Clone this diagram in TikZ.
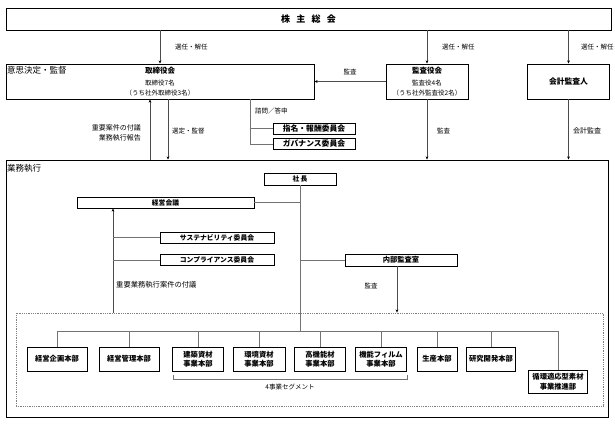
\documentclass[tikz,border=0pt]{standalone}
\usepackage{fontspec}
\setmainfont{Noto Sans CJK JP}
\usetikzlibrary{arrows.meta,calc}
\begin{document}
\begin{tikzpicture}[x=1pt,y=-1pt,
  box/.style={draw=black,line width=0.95pt,inner sep=0pt,align=center,font=\fontsize{6.8}{8}\selectfont\bfseries},
  conn/.style={draw=black!55,line width=0.7pt},
  arr/.style={draw=black!70,line width=0.7pt,-{Stealth[length=3.2pt,width=2.8pt,black]}},
  lbl/.style={inner sep=0pt,font=\fontsize{6.5}{8}\selectfont},
  ttl/.style={inner sep=0pt,font=\fontsize{7.5}{9}\selectfont\bfseries},
  big/.style={inner sep=0pt,anchor=west,font=\fontsize{8.5}{10}\selectfont},
  bbox/.style={box,minimum height=24pt,font=\fontsize{7.3}{9.5}\selectfont\bfseries},
  ]
\useasboundingbox (0,0) rectangle (615,423);

% top row
\node[box,minimum width=605pt,minimum height=22pt,font=\fontsize{9}{10}\selectfont\bfseries] (gm) at (308.5,19) {株\hspace{0.7em}主\hspace{0.7em}総\hspace{0.7em}会};

\node[box,minimum width=308pt,minimum height=35pt] (board) at (160,81.5) {};
\node[big] (kettei) at (7,70) {意思決定・監督};
\node[ttl] (boardt) at (160,71) {取締役会};
\node[lbl] (board2) at (160,83) {取締役7名};
\node[lbl] (board3) at (160,93.5) {（うち社外取締役3名）};

\node[box,minimum width=82pt,minimum height=35pt] (kansa) at (427,81.5) {};
\node[ttl] (kansat) at (427,71) {監査役会};
\node[lbl] (kansa2) at (427,83) {監査役4名};
\node[lbl] (kansa3) at (427,93.5) {（うち社外監査役2名）};

\node[box,minimum width=82pt,minimum height=35pt,font=\fontsize{7.8}{9}\selectfont\bfseries] (kaikei) at (568.5,81.5) {会計監査人};

\draw[arr] (gm.south -| board) -- (board.north);
\draw[arr] (gm.south -| kansa) -- (kansa.north);
\draw[arr] (gm.south -| kaikei) -- (kaikei.north);
\node[lbl,anchor=west] (sn1) at (175,47) {選任・解任};
\node[lbl,anchor=west] (sn2) at (442,47) {選任・解任};
\node[lbl,anchor=west] (sn3) at (581,47) {選任・解任};

\draw[arr] (kansa.west) -- (board.east);
\node[lbl] (kansalbl) at (350,72) {監査};

% committees
\node[box,minimum width=82pt,minimum height=11pt,font=\fontsize{7.8}{9}\selectfont\bfseries] (shimei) at (314,128.5) {指名・報酬委員会};
\node[box,minimum width=82pt,minimum height=11pt,font=\fontsize{7.8}{9}\selectfont\bfseries] (gov) at (314,144) {ガバナンス委員会};
\coordinate (shimon) at (250,99);
\draw[conn] (shimon) |- (gov.west);
\draw[conn] (shimon |- shimei.west) -- (shimei.west);
\node[lbl,anchor=west] (shimonlbl) at (255,111) {諮問／答申};

% execution frame
\node[draw=black,line width=0.95pt,minimum width=602pt,minimum height=257pt,inner sep=0pt] (exec) at (307,288.5) {};
\node[big] (gyomu) at (7,168.5) {業務執行};

\coordinate (upx) at (150,160);
\coordinate (dnx) at (168,99);
\draw[arr] (upx) -- (upx |- board.south);
\draw[arr] (dnx) -- (dnx |- exec.north);
\node[lbl,anchor=east,align=right,font=\fontsize{7}{10}\selectfont] (fugi) at (141,133) {重要案件の付議\\業務執行報告};
\node[lbl,anchor=west] (sentei) at (172,131) {選定・監督};

\draw[arr] (kansa.south) -- (kansa.south |- exec.north);
\node[lbl,anchor=west] (kansalbl2) at (437,131) {監査};
\draw[arr] (kaikei.south) -- (kaikei.south |- exec.north);
\node[lbl,anchor=west,font=\fontsize{7}{8}\selectfont] (kaikeilbl) at (573,131) {会計監査};

% inside execution
\node[box,minimum width=72pt,minimum height=12pt] (pres) at (300,179) {社\hspace{0.15em}長};
\node[box,minimum width=177pt,minimum height=11pt] (keiei) at (165.5,202.5) {経営会議};
\node[box,minimum width=114pt,minimum height=11pt] (sust) at (217,237.5) {サステナビリティ委員会};
\node[box,minimum width=114pt,minimum height=11pt] (comp) at (217,260) {コンプライアンス委員会};
\node[box,minimum width=112pt,minimum height=12pt,font=\fontsize{7.3}{9}\selectfont\bfseries] (audit) at (401,260) {内部監査室};

\node[draw=black!50,densely dotted,line width=0.8pt,minimum width=587pt,minimum height=93pt,inner sep=0pt] (seg) at (309.5,359.5) {};

\coordinate (bar) at (300,331);
\draw[conn] (pres.south) -- (bar);
\draw[conn] (keiei.east) -- (keiei.east -| pres.south);
\draw[conn] (audit.west) -- (audit.west -| pres.south);

\coordinate (kx) at (113,313);
\draw[arr] (kx) -- (kx |- keiei.south);
\draw[conn] (kx |- sust.west) -- (sust.west);
\draw[conn] (kx |- comp.west) -- (comp.west);
\node[lbl,anchor=west,font=\fontsize{7.3}{8}\selectfont] (jyuyo) at (116,285) {重要業務執行案件の付議};

\coordinate (ax) at (397,266);
\draw[arr] (ax) -- (ax |- seg.north);
\node[lbl] (auditlbl) at (371,286) {監査};

% bottom row
\node[bbox,minimum width=60pt] (b1) at (57,359) {経営企画本部};
\node[bbox,minimum width=60pt] (b2) at (129,359) {経営管理本部};
\node[bbox,minimum width=51pt] (b3) at (198,359) {建築資材\\事業本部};
\node[bbox,minimum width=52pt] (b4) at (259,359) {環境資材\\事業本部};
\node[bbox,minimum width=51pt] (b5) at (320,359) {高機能材\\事業本部};
\node[bbox,minimum width=51pt] (b6) at (381,359) {機能フィルム\\事業本部};
\node[bbox,minimum width=40pt] (b7) at (437,359) {生産本部};
\node[bbox,minimum width=49pt] (b8) at (491,359) {研究開発本部};
\node[bbox,minimum width=59pt,minimum height=23pt] (b9) at (558,381.5) {循環適応型素材\\事業推進部};

\draw[conn] (b1.north |- bar) -- (b9.north |- bar);
\foreach \b in {b1,b2,b3,b4,b5,b6,b7,b8,b9}{
  \draw[conn] (\b.north |- bar) -- (\b.north);
}

\coordinate (brL) at (173,375);
\coordinate (brR) at (407,375);
\draw[conn] (brL) -- ++(0,4) -| (brR);
\node[lbl] (seglbl) at (290,387.5) {4事業セグメント};
\end{tikzpicture}
\end{document}
